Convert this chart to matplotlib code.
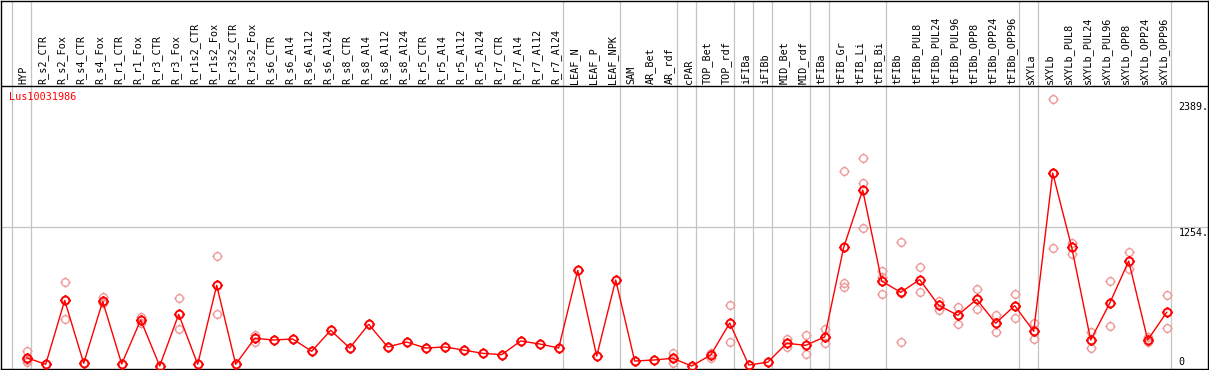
import numpy as np
import matplotlib
matplotlib.use("Agg")
import matplotlib.pyplot as plt
from matplotlib.path import Path
import matplotlib.transforms as mtransforms

# ---------------- data ----------------
labels = ["HYP", "R_s2_CTR", "R_s2_Fox", "R_s4_CTR", "R_s4_Fox", "R_r1_CTR", "R_r1_Fox",
          "R_r3_CTR", "R_r3_Fox", "R_r1s2_CTR", "R_r1s2_Fox", "R_r3s2_CTR", "R_r3s2_Fox",
          "R_s6_CTR", "R_s6_Al4", "R_s6_Al12", "R_s6_Al24", "R_s8_CTR", "R_s8_Al4",
          "R_s8_Al12", "R_s8_Al24", "R_r5_CTR", "R_r5_Al4", "R_r5_Al12", "R_r5_Al24",
          "R_r7_CTR", "R_r7_Al4", "R_r7_Al12", "R_r7_Al24", "LEAF_N", "LEAF_P", "LEAF_NPK",
          "SAM", "AR_Bet", "AR_rdf", "cPAR", "TOP_Bet", "TOP_rdf", "iFIBa", "iFIBb",
          "MID_Bet", "MID_rdf", "tFIBa", "tFIB_Gr", "tFIB_Li", "tFIB_Bi", "tFIBb",
          "tFIBb_PUL8", "tFIBb_PUL24", "tFIBb_PUL96", "tFIBb_OPP8", "tFIBb_OPP24",
          "tFIBb_OPP96", "sXYLa", "sXYLb", "sXYLb_PUL8", "sXYLb_PUL24", "sXYLb_PUL96",
          "sXYLb_OPP8", "sXYLb_OPP24", "sXYLb_OPP96"]

means = [97, 39, 605, 48, 596, 42, 431, 24, 481, 39, 738, 39, 269,
         254, 263, 154, 340, 183, 393, 192, 236, 183, 192, 165, 136,
         124, 245, 219, 183, 871, 112, 785,
         68, 77, 92, 24, 121, 404, 33, 57,
         225, 207, 281, 1074, 1581, 776, 676,
         788, 561, 473, 614, 402, 558,
         331, 1732, 1074, 254, 579, 953, 254, 499]

replicates = [[157, 77, 59], [], [765, 437], [], [637, 584], [], [460, 402],
              [], [623, 349], [], [995, 484], [], [301, 236],
              [], [], [], [], [], [], [], [], [], [], [], [],
              [], [], [], [], [], [], [],
              [], [], [142, 48], [], [142, 92], [564, 234], [], [],
              [263, 189], [296, 127], [351, 230], [756, 726, 1747], [1862, 1641, 1243],
              [865, 814, 658], [1119, 234, 667],
              [897, 676], [599, 517], [549, 393], [703, 526], [475, 327], [658, 451],
              [402, 260], [2389, 1066, 1734], [1115, 1015], [322, 181], [776, 381],
              [1030, 880], [283, 234], [650, 358]]

group_ends = [-1, 0, 28, 31, 34, 35, 37, 38, 39, 41, 42, 45, 52, 53, 60]
axis_labels = ["2389.", "1254.", "0"]
axis_values = [2389, 1254, 0]
gene = "Lus10031986"

# ---------------- figure ----------------
W, H = 1209, 370
fig = plt.figure(figsize=(W / 100, H / 100), dpi=100)
ax = fig.add_axes([0.5 / W, (H - 368.7) / H, 1207 / W, (368.7 - 0.5) / H])

px_per_col = 19.0
x0px = 26.7
ax.set_xlim((0.5 - x0px) / px_per_col, (1207.5 - x0px) / px_per_col)
vpp = 8.85  # value per pixel
ax.set_ylim(0, (368.7 - 0.5) * vpp)
ax.set_xticks([])
ax.set_yticks([])
for s in ax.spines.values():
    s.set_color("black")
    s.set_linewidth(1.0)

mono = "DejaVu Sans Mono"
gray = "#c4c4c4"

# group separator lines
for g in group_ends:
    ax.axvline(g + 0.2, color=gray, lw=0.9, zorder=1)

# header separator
ax.axhline((368.7 - 85.7) * vpp, color="black", lw=1.0, zorder=2)
# grid line at mid value
ax.axhline(axis_values[1], color=gray, lw=0.9, zorder=1)

# custom marker: circle with four small outward ticks
circ = Path.unit_circle()
verts = list(circ.vertices)
codes = list(circ.codes)
for dx, dy in [(1, 0), (-1, 0), (0, 1), (0, -1)]:
    verts += [(dx * 1.0, dy * 1.0), (dx * 1.35, dy * 1.35)]
    codes += [Path.MOVETO, Path.LINETO]
marker = Path(np.array(verts), codes)

xs = np.arange(len(labels))

# replicates
rx, ry = [], []
for i, reps in enumerate(replicates):
    for v in reps:
        rx.append(i)
        ry.append(v)
ax.plot(rx, ry, linestyle="none", marker=marker, ms=7.4, mfc="none",
        mec="#ef9a9a", mew=1.0, zorder=3)

# mean line + markers
ax.plot(xs, means, color="#ff0000", lw=1.0, zorder=4)
ax.plot(xs, means, linestyle="none", marker=marker, ms=7.6, mfc="none",
        mec="#ff0000", mew=1.4, zorder=5)

# header labels
off = mtransforms.ScaledTranslation(-3 / 100, 0, fig.dpi_scale_trans)
for i, lab in enumerate(labels):
    ax.text(i, (368.7 - 83.5) * vpp, lab, rotation=90, ha="center", va="bottom",
            fontsize=7.3, family=mono, color="black", transform=ax.transData + off)

# right-hand value labels
xr = (1178.5 - x0px) / px_per_col
offsets_px = [-8.0, -5.7, 6.4]
for lab, v, o in zip(axis_labels, axis_values, offsets_px):
    ax.annotate(lab, xy=(xr, v), xytext=(0, o * 0.72), textcoords="offset points",
                ha="left", va="center", fontsize=7.2, family=mono, color="black")

# gene name
fig.text(9.0 / W, 1 - 97.0 / H, gene, color="#ff0000", fontsize=7.3, family=mono,
         ha="left", va="center")

fig.savefig("out.png", dpi=100)
